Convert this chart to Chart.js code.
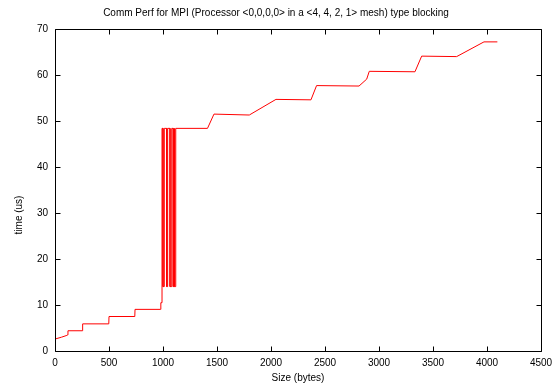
<!DOCTYPE html>
<html>
<head>
<meta charset="utf-8">
<script src="https://cdn.jsdelivr.net/npm/chart.js@4"></script>
<style>
html,body{margin:0;padding:0;background:#fff;}
canvas{display:block;}
</style>
</head>
<body>
<canvas id="c" width="552" height="387"></canvas>
<script>
const TITLE = 'Comm Perf for MPI (Processor <0,0,0,0> in a <4, 4, 2, 1> mesh) type blocking';
const X_LABEL = 'Size (bytes)';
const Y_LABEL = 'time (us)';
const X_TICKS = [0, 500, 1000, 1500, 2000, 2500, 3000, 3500, 4000, 4500];
const Y_TICKS = [0, 10, 20, 30, 40, 50, 60, 70];

// message size (bytes) and time (us)
const sizes = [
  0, 60, 110, 118, 120, 254, 256, 498, 500, 739, 741, 977, 980, 991,
  991, 1000, 1000, 1012, 1012, 1034, 1034, 1043, 1043, 1065, 1065, 1081, 1081, 1095, 1095, 1102, 1102, 1110, 1110, 1118, 1118,
  1412, 1472, 1799, 2046, 2370, 2422, 2815, 2886, 2910, 3333, 3395, 3719, 3972, 4096
];
const times = [
  2.6, 3.0, 3.4, 3.5, 4.4, 4.4, 5.9, 5.9, 7.5, 7.5, 9.05, 9.05, 10.5, 10.5,
  48.4, 48.4, 14.0, 14.0, 48.4, 48.4, 14.0, 14.0, 48.4, 48.4, 14.0, 14.0, 48.4, 48.4, 14.0, 14.0, 48.4, 48.4, 14.0, 14.0, 48.4,
  48.4, 51.5, 51.3, 54.7, 54.6, 57.7, 57.6, 59.1, 60.8, 60.7, 64.1, 64.0, 67.2, 67.2
];

const FONT = "'Liberation Sans', Arial, Helvetica, sans-serif";

const points = sizes.map((s, i) => ({x: s, y: times[i]}));

const framePlugin = {
  id: 'frame',
  afterDraw(chart) {
    const {ctx, chartArea: a, scales} = chart;
    const L = Math.round(a.left) + 0.5, R = Math.round(a.right) + 0.5;
    const T = Math.round(a.top) + 0.5, B = Math.round(a.bottom) + 0.5;
    const tl = 5;
    ctx.save();
    ctx.strokeStyle = '#000';
    ctx.lineWidth = 1;
    ctx.beginPath();
    ctx.rect(L, T, R - L, B - T);
    X_TICKS.forEach(v => {
      const px = Math.round(scales.x.getPixelForValue(v)) + 0.5;
      ctx.moveTo(px, B); ctx.lineTo(px, B - tl);
      ctx.moveTo(px, T); ctx.lineTo(px, T + tl);
    });
    Y_TICKS.forEach(v => {
      const py = Math.round(scales.y.getPixelForValue(v)) + 0.5;
      ctx.moveTo(L, py); ctx.lineTo(L + tl, py);
      ctx.moveTo(R, py); ctx.lineTo(R - tl, py);
    });
    ctx.stroke();
    // y axis label
    ctx.fillStyle = '#000';
    ctx.font = '10px ' + FONT;
    ctx.textAlign = 'center';
    ctx.textBaseline = 'middle';
    ctx.translate(19, 215);
    ctx.rotate(-Math.PI / 2);
    ctx.fillText(Y_LABEL, 0, 0);
    ctx.restore();
  }
};

new Chart(document.getElementById('c'), {
  type: 'line',
  data: {
    datasets: [{
      data: points,
      borderColor: '#ff0000',
      borderWidth: 1,
      pointRadius: 0,
      fill: false,
      tension: 0
    }]
  },
  options: {
    responsive: false,
    animation: false,
    devicePixelRatio: 1,
    layout: {padding: {left: 0, right: 0, top: 0, bottom: 0}},
    plugins: {
      legend: {display: false},
      tooltip: {enabled: false},
      title: {
        display: true,
        text: TITLE,
        color: '#000',
        font: {family: FONT, size: 10, weight: 'normal'},
        padding: {top: 7, bottom: 10}
      }
    },
    scales: {
      x: {
        type: 'linear',
        min: 0, max: 4500,
        afterBuildTicks: s => { s.ticks = X_TICKS.map(v => ({value: v})); },
        afterFit: s => { s.height = 36; s.paddingRight = 11; s.paddingLeft = 0; },
        grid: {display: false, drawTicks: false},
        border: {display: false},
        ticks: {color: '#000', font: {family: FONT, size: 10}, padding: 6, maxRotation: 0, autoSkip: false,
                callback: v => String(v)},
        title: {display: true, text: X_LABEL, color: '#000', font: {family: FONT, size: 10}, padding: {top: 0, bottom: 3}}
      },
      y: {
        type: 'linear',
        min: 0, max: 70,
        afterBuildTicks: s => { s.ticks = Y_TICKS.map(v => ({value: v})); },
        afterFit: s => { s.width = 55; s.paddingTop = 0; s.paddingBottom = 0; },
        grid: {display: false, drawTicks: false},
        border: {display: false},
        ticks: {color: '#000', font: {family: FONT, size: 10}, padding: 7, autoSkip: false,
                callback: v => String(v)}
      }
    }
  },
  plugins: [framePlugin]
});
</script>
</body>
</html>
